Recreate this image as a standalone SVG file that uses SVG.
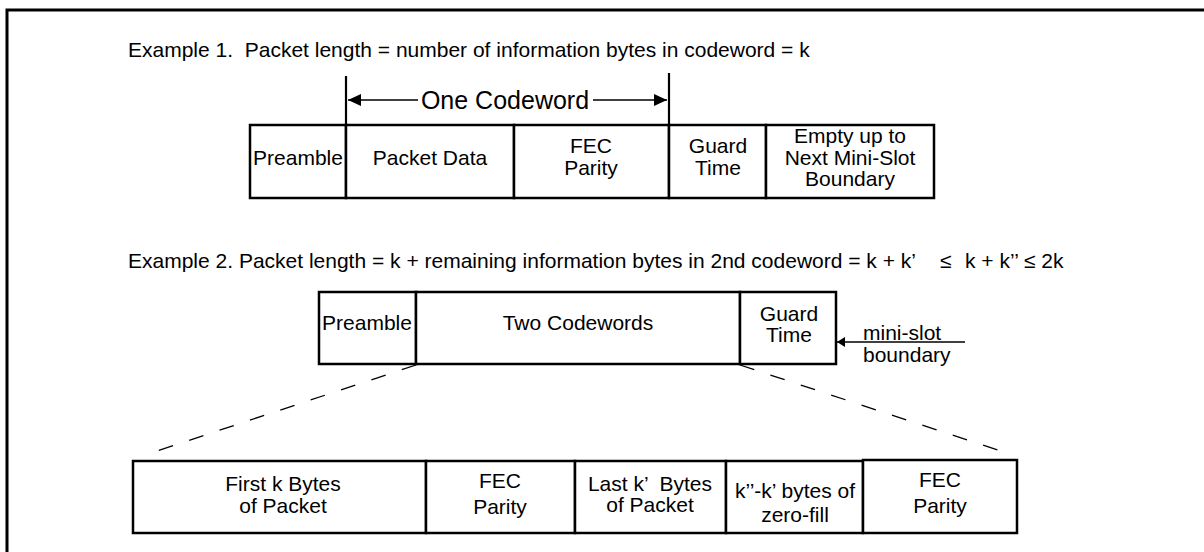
<svg xmlns="http://www.w3.org/2000/svg" width="1204" height="552" viewBox="0 0 1204 552">
  <style>
    text { font-family: "Liberation Sans", Arial, sans-serif; font-size: 21px; fill: #000; }
    .c { text-anchor: middle; }
    .cell { fill: #fff; stroke: #000; stroke-width: 2.5; }
    .tick { stroke: #000; stroke-width: 2.2; fill: none; }
    .arrow { stroke: #000; stroke-width: 1.5; fill: none; }
    .dash { stroke: #000; stroke-width: 1.3; fill: none; stroke-dasharray: 15 17; }
  </style>
  <defs>
    <marker id="headBig" markerUnits="userSpaceOnUse" markerWidth="14" markerHeight="12" refX="13" refY="6" orient="auto">
      <path d="M0,0 L13,6 L0,12 Z" fill="#000"/>
    </marker>
    <marker id="headSmall" markerUnits="userSpaceOnUse" markerWidth="9" markerHeight="10" refX="8" refY="5" orient="auto">
      <path d="M0,0 L8,5 L0,10 Z" fill="#000"/>
    </marker>
  </defs>
  <rect width="1204" height="552" fill="#fff"/>
  <path id="frame" d="M7,552 V10 H1204" fill="none" stroke="#000" stroke-width="3"/>

  <g id="title1">
    <text x="128" y="57" xml:space="preserve">Example 1.  Packet length = number of information bytes in codeword = k</text>
  </g>

  <g id="ex1-preamble"><rect class="cell" x="250" y="125" width="96" height="73"/><text class="c" x="298" y="165">Preamble</text></g>
  <g id="ex1-packet-data"><rect class="cell" x="346" y="125" width="168" height="73"/><text class="c" x="430" y="165">Packet Data</text></g>
  <g id="ex1-fec"><rect class="cell" x="514" y="125" width="155" height="73"/><text class="c" x="591" y="153">FEC</text><text class="c" x="591" y="175">Parity</text></g>
  <g id="ex1-guard"><rect class="cell" x="669" y="125" width="97" height="73"/><text class="c" x="718" y="153">Guard</text><text class="c" x="718" y="175">Time</text></g>
  <g id="ex1-empty"><rect class="cell" x="766" y="125" width="168" height="73"/><text class="c" x="850" y="143">Empty up to</text><text class="c" x="850" y="165">Next Mini-Slot</text><text class="c" x="850" y="186">Boundary</text></g>

  <g id="codeword-label">
    <text class="c" x="505" y="109" style="font-size:25px">One Codeword</text>
  </g>

  <g id="title2">
    <text x="128" y="268" xml:space="preserve">Example 2. Packet length = k + remaining information bytes in 2nd codeword = k + k’<tspan x="940">≤</tspan><tspan x="965">k + k’’ ≤ 2k</tspan></text>
  </g>

  <g id="ex2-preamble"><rect class="cell" x="319" y="292" width="97" height="72"/><text class="c" x="367" y="330">Preamble</text></g>
  <g id="ex2-two-codewords"><rect class="cell" x="416" y="292" width="324" height="72"/><text class="c" x="578" y="330">Two Codewords</text></g>
  <g id="ex2-guard"><rect class="cell" x="740" y="292" width="96" height="72"/><text class="c" x="789" y="321">Guard</text><text class="c" x="789" y="342">Time</text></g>
  <g id="mini-slot-label"><text x="863" y="340">mini-slot</text><text x="863" y="362">boundary</text></g>

  <g id="cw-first"><rect class="cell" x="133" y="461" width="293" height="72"/><text class="c" x="283" y="491">First k Bytes</text><text class="c" x="283" y="513">of Packet</text></g>
  <g id="cw-fec1"><rect class="cell" x="426" y="461" width="149" height="72"/><text class="c" x="500" y="488">FEC</text><text class="c" x="500" y="514">Parity</text></g>
  <g id="cw-last"><rect class="cell" x="575" y="461" width="151" height="72"/><text class="c" x="650" y="491" xml:space="preserve">Last k’  Bytes</text><text class="c" x="650" y="512">of Packet</text></g>
  <g id="cw-zero"><rect class="cell" x="726" y="461" width="137" height="72"/><text class="c" x="795" y="498">k’’-k’ bytes of</text><text class="c" x="795" y="522">zero-fill</text></g>
  <g id="cw-fec2"><rect class="cell" x="863" y="460" width="154" height="73"/><text class="c" x="940" y="487">FEC</text><text class="c" x="940" y="513">Parity</text></g>

  <g id="connectors">
    <line class="tick" x1="346" y1="76" x2="346" y2="125"/>
    <line class="tick" x1="669" y1="73" x2="669" y2="125"/>
    <line class="arrow" x1="418" y1="100" x2="348" y2="100" marker-end="url(#headBig)"/>
    <line class="arrow" x1="593" y1="100" x2="667" y2="100" marker-end="url(#headBig)"/>
    <line class="arrow" x1="965" y1="342" x2="837" y2="342" marker-end="url(#headSmall)"/>
    <line class="dash" x1="416" y1="365" x2="151" y2="453"/>
    <line class="dash" x1="740" y1="365" x2="1013" y2="455"/>
  </g>
</svg>
